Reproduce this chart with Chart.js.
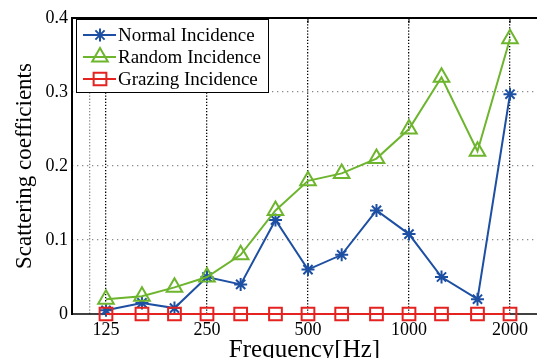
<!DOCTYPE html>
<html>
<head>
<meta charset="utf-8">
<title>Scattering coefficients</title>
<script src="https://cdn.jsdelivr.net/npm/chart.js@4/dist/chart.umd.min.js"></script>
<style>
  html, body { margin: 0; padding: 0; background: #fff; overflow: hidden; }
  canvas { display: block; }
</style>
</head>
<body>
<canvas id="scatterChart" width="537" height="358"></canvas>
<script>
// one-third octave band centres
const freqs = [125, 160, 200, 250, 315, 400, 500, 630, 800, 1000, 1250, 1600, 2000]
const normalInc = [0.005, 0.015, 0.008, 0.05, 0.04, 0.127, 0.06, 0.08, 0.14, 0.108, 0.05, 0.02, 0.297]
const randomInc = [0.02, 0.024, 0.036, 0.05, 0.08, 0.14, 0.18, 0.19, 0.21, 0.25, 0.32, 0.22, 0.372]
const grazingInc = [0, 0, 0, 0, 0, 0, 0, 0, 0, 0, 0, 0, 0]

const xTicks = [112, 125, 250, 500, 1000, 2000]
const xLabelled = [125, 250, 500, 1000, 2000]
const yTicks = [0, 0.1, 0.2, 0.3, 0.4]

const serif = "'Liberation Serif', 'Times New Roman', serif"
Chart.defaults.font.family = serif
Chart.defaults.color = '#000'

const series = [
  { label: 'Normal Incidence', data: normalInc, color: '#1d4fa2', style: 'star', radius: 6.5, order: 2 },
  { label: 'Random Incidence', data: randomInc, color: '#6cb52d', style: 'triangle', radius: 9, order: 1 },
  { label: 'Grazing Incidence', data: grazingInc, color: '#e42320', style: 'rect', radius: 9, order: 0 }
]

// axes frame (drawn under the lines) and the boxed legend in the top-left corner
const frameAndLegend = {
  id: 'frameAndLegend',
  beforeDatasetsDraw(chart) {
    const { ctx, chartArea: a, scales } = chart
    ctx.save()
    ctx.strokeStyle = '#000'
    ctx.lineWidth = 2
    ctx.beginPath()
    ctx.moveTo(a.left, a.bottom + 1)
    ctx.lineTo(a.left, a.top)
    ctx.lineTo(a.right, a.top)
    ctx.stroke()
    ctx.lineWidth = 1.5
    ctx.beginPath()
    ctx.moveTo(a.left, a.bottom)
    ctx.lineTo(a.right, a.bottom)
    ctx.stroke()
    // small inward ticks on the top edge
    ctx.lineWidth = 1
    xTicks.forEach(v => {
      const x = scales.x.getPixelForValue(v)
      ctx.beginPath()
      ctx.moveTo(x, a.top)
      ctx.lineTo(x, a.top + 5)
      ctx.stroke()
    })
    ctx.restore()
  },
  afterDraw(chart) {
    const { ctx, chartArea: a } = chart
    const boxX = a.left + 4
    const boxY = a.top + 1
    const boxW = 192
    const boxH = 73
    ctx.save()
    ctx.fillStyle = '#fff'
    ctx.fillRect(boxX, boxY, boxW, boxH)
    ctx.strokeStyle = '#000'
    ctx.lineWidth = 1
    ctx.strokeRect(boxX + 0.5, boxY + 0.5, boxW, boxH)
    ctx.font = '19px ' + serif
    ctx.textBaseline = 'middle'
    series.forEach((s, i) => {
      const y = boxY + 16 + i * 22
      ctx.strokeStyle = s.color
      ctx.lineWidth = 2
      ctx.beginPath()
      ctx.moveTo(boxX + 7, y)
      ctx.lineTo(boxX + 40, y)
      ctx.stroke()
      ctx.fillStyle = 'rgba(0,0,0,0)'
      Chart.helpers.drawPoint(ctx, { pointStyle: s.style, radius: s.radius, rotation: 0, borderWidth: 2 }, boxX + 24, y)
      ctx.fillStyle = '#000'
      ctx.fillText(s.label, boxX + 42, y + 1)
    })
    ctx.restore()
  }
}

new Chart(document.getElementById('scatterChart').getContext('2d'), {
  type: 'line',
  data: {
    datasets: series.map(s => ({
      label: s.label,
      data: freqs.map((f, i) => ({ x: f, y: s.data[i] })),
      borderColor: s.color,
      backgroundColor: 'rgba(0,0,0,0)',
      borderWidth: 2,
      pointStyle: s.style,
      pointRadius: s.radius,
      pointHoverRadius: s.radius,
      pointBorderColor: s.color,
      pointBackgroundColor: 'rgba(0,0,0,0)',
      pointBorderWidth: 2,
      tension: 0,
      clip: false,
      order: s.order
    }))
  },
  options: {
    responsive: false,
    animation: false,
    layout: { autoPadding: false, padding: { top: 18, right: 0, left: 0, bottom: 0 } },
    plugins: {
      legend: { display: false },
      tooltip: { enabled: false }
    },
    scales: {
      x: {
        type: 'logarithmic',
        min: 99,
        max: 2407,
        afterBuildTicks: axis => { axis.ticks = xTicks.map(v => ({ value: v })) },
        afterFit: scale => {
          scale.height = 44
          scale.paddingLeft = 0
          scale.paddingRight = 0
        },
        ticks: {
          autoSkip: false,
          maxRotation: 0,
          padding: 5,
          font: { size: 18 },
          callback: v => xLabelled.includes(v) ? String(v) : ''
        },
        grid: {
          drawTicks: false,
          lineWidth: 1.3,
          color: ctx => ctx.tick && ctx.tick.value === 112 ? '#8a8a8a' : '#000'
        },
        border: { display: false, dash: [1.3, 1.8] },
        title: {
          display: true,
          text: 'Frequency[Hz]',
          font: { size: 25, lineHeight: 0.64 },
          padding: { top: 0, bottom: 0 }
        }
      },
      y: {
        min: 0,
        max: 0.4,
        afterBuildTicks: axis => { axis.ticks = yTicks.map(v => ({ value: v })) },
        afterFit: scale => { scale.width = 72 },
        ticks: {
          padding: 4,
          font: { size: 18 },
          callback: v => v === 0 ? '0' : v.toFixed(1)
        },
        grid: {
          drawTicks: false,
          lineWidth: 1.3,
          color: ctx => ctx.tick && (ctx.tick.value === 0 || ctx.tick.value === 0.4) ? 'rgba(0,0,0,0)' : '#8a8a8a'
        },
        border: { display: false, dash: [1.3, 3.7] },
        title: {
          display: true,
          text: 'Scattering coefficients',
          font: { size: 23 },
          padding: { top: 11, bottom: 0 }
        }
      }
    }
  },
  plugins: [frameAndLegend]
})
</script>
</body>
</html>
